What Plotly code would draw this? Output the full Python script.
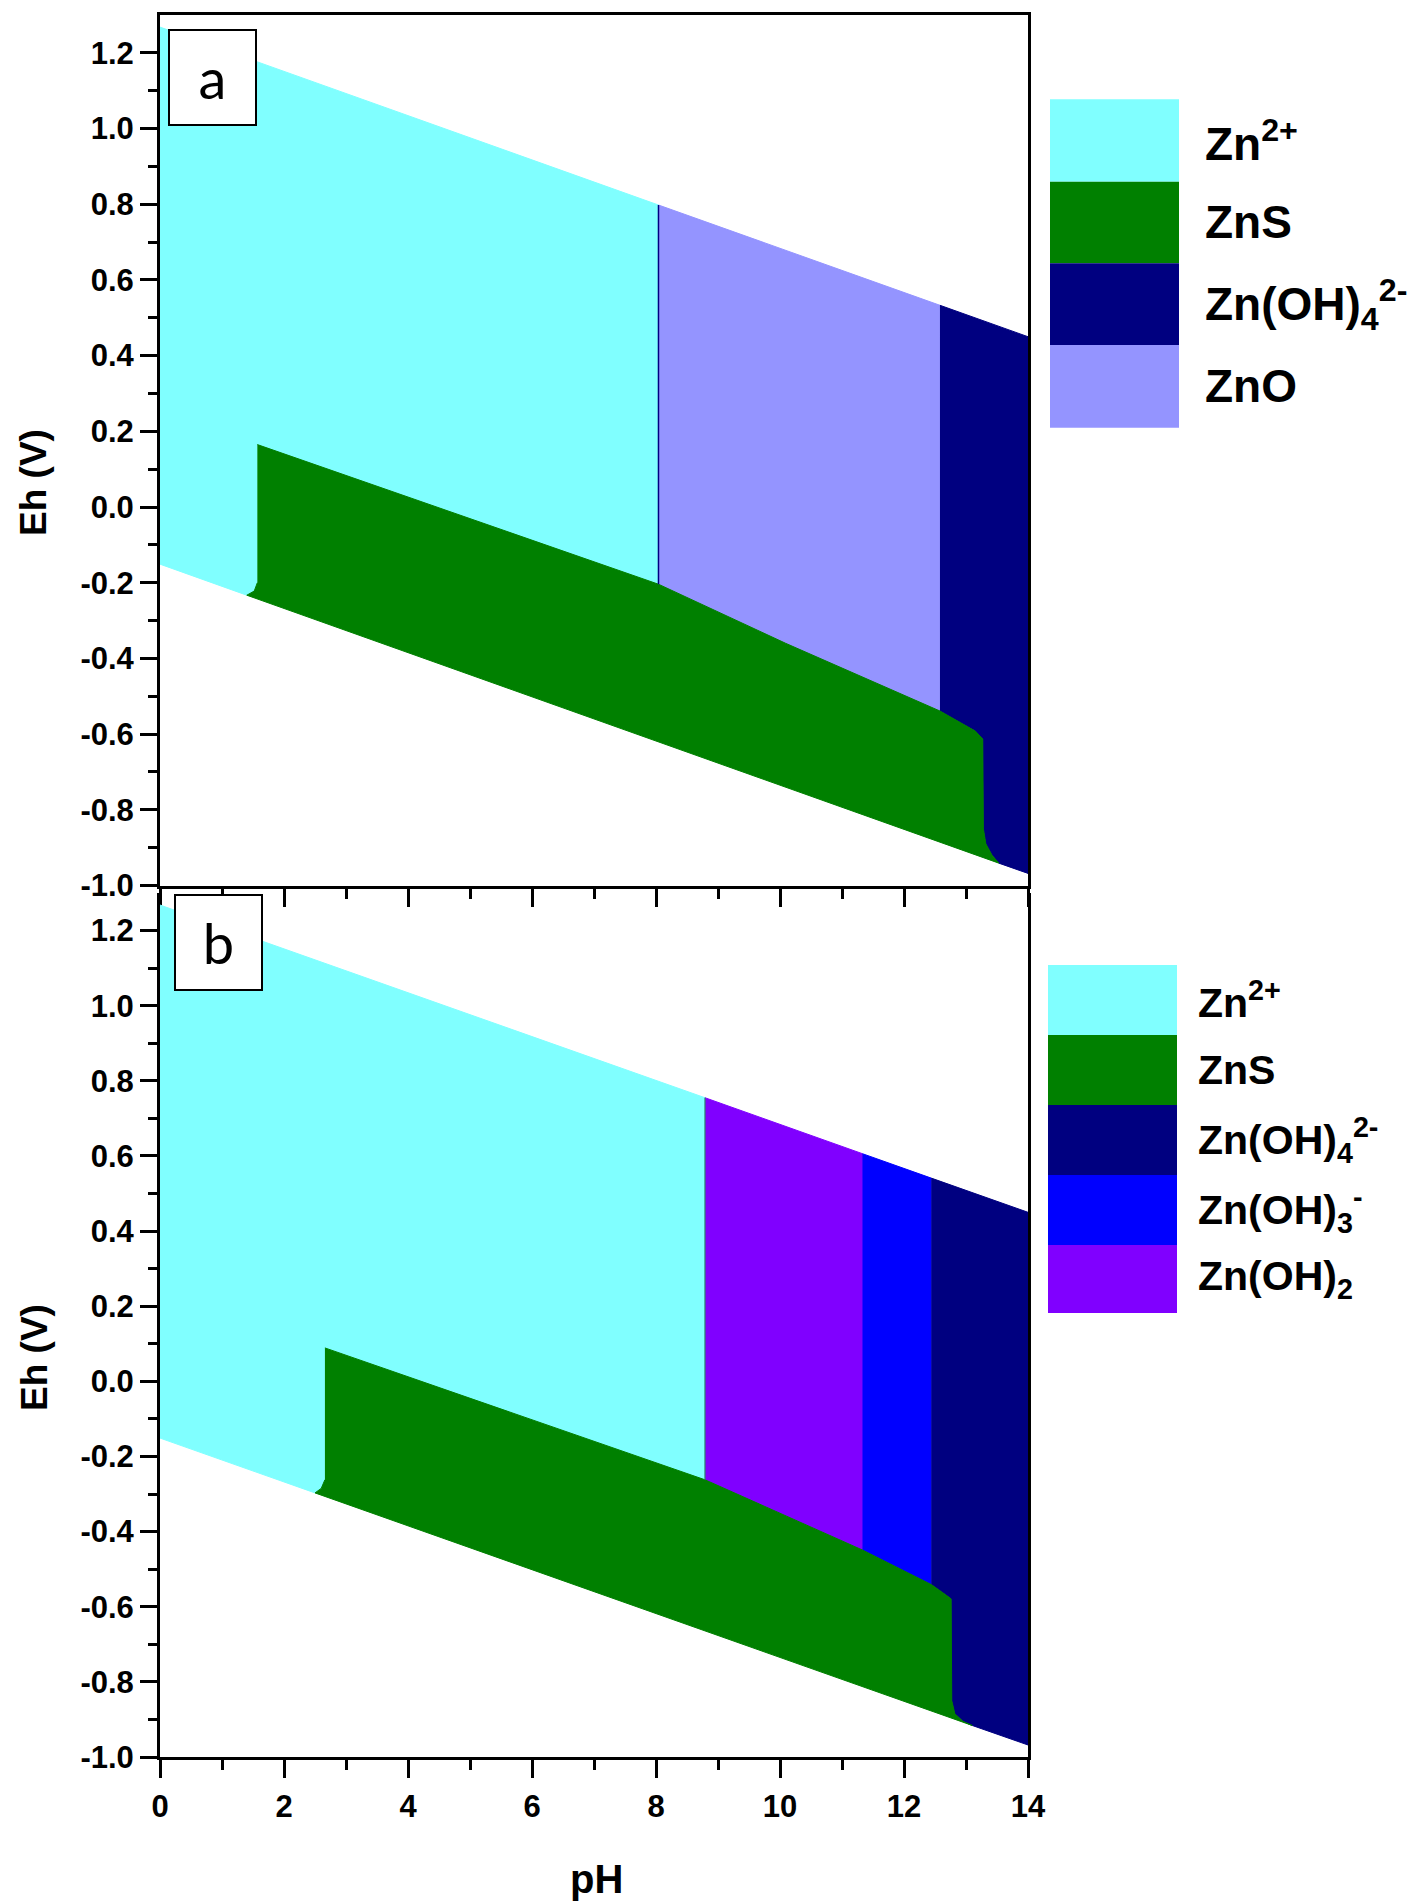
import plotly.graph_objects as go

# ---------------- data ----------------
PH_RANGE = [0, 14]
EH_RANGE = [-1.0, 1.3]
X_TICKS = [0, 2, 4, 6, 8, 10, 12, 14]
X_TICK_LABELS = ["0", "2", "4", "6", "8", "10", "12", "14"]
X_MINOR = [1, 3, 5, 7, 9, 11, 13]
Y_TICKS = [-1.0, -0.8, -0.6, -0.4, -0.2, 0.0, 0.2, 0.4, 0.6, 0.8, 1.0, 1.2]
Y_TICK_LABELS = ["-1.0", "-0.8", "-0.6", "-0.4", "-0.2", "0.0", "0.2", "0.4", "0.6", "0.8", "1.0", "1.2"]
Y_MINOR = [-0.9, -0.7, -0.5, -0.3, -0.1, 0.1, 0.3, 0.5, 0.7, 0.9, 1.1]

# Panel a : region outlines (pH, Eh)
A_ZN2_PH = [0, 8.04, 8.04, 1.57, 1.57, 1.52, 1.40, 0]
A_ZN2_EH = [1.268, 0.798, -0.204, 0.165, -0.200, -0.222, -0.233, -0.151]
A_ZNS_PH = [1.57, 8.04, 10.09, 12.58, 13.15, 13.27, 13.28, 13.32, 13.42, 13.53, 1.40, 1.52, 1.57]
A_ZNS_EH = [0.165, -0.204, -0.360, -0.539, -0.592, -0.613, -0.850, -0.890, -0.920, -0.941, -0.233, -0.222, -0.200]
A_ZNO_PH = [8.04, 12.58, 12.58, 10.09, 8.04]
A_ZNO_EH = [0.798, 0.533, -0.539, -0.360, -0.204]
A_ZNOH4_PH = [12.58, 14, 14, 13.53, 13.42, 13.32, 13.28, 13.27, 13.15, 12.58]
A_ZNOH4_EH = [0.533, 0.450, -0.968, -0.941, -0.920, -0.890, -0.850, -0.613, -0.592, -0.539]

# Panel b : region outlines (pH, Eh)
B_ZN2_PH = [0, 8.79, 8.79, 2.66, 2.66, 2.60, 2.50, 0]
B_ZN2_EH = [1.268, 0.755, -0.262, 0.089, -0.262, -0.285, -0.297, -0.151]
B_ZNS_PH = [2.66, 8.79, 11.33, 12.44, 12.62, 12.76, 12.77, 12.82, 12.95, 13.10, 2.50, 2.60, 2.66]
B_ZNS_EH = [0.089, -0.262, -0.449, -0.541, -0.562, -0.579, -0.850, -0.885, -0.905, -0.916, -0.297, -0.285, -0.262]
B_ZNOH2_PH = [8.79, 11.33, 11.33, 8.79]
B_ZNOH2_EH = [0.755, 0.606, -0.449, -0.262]
B_ZNOH3_PH = [11.33, 12.44, 12.44, 11.33]
B_ZNOH3_EH = [0.606, 0.541, -0.541, -0.449]
B_ZNOH4_PH = [12.44, 14, 14, 13.10, 12.95, 12.82, 12.77, 12.76, 12.62, 12.44]
B_ZNOH4_EH = [0.541, 0.450, -0.968, -0.916, -0.905, -0.885, -0.850, -0.579, -0.562, -0.541]

LEGEND_A = ["Zn<sup>2+</sup>", "ZnS", "Zn(OH)<sub>4</sub><sup>2-</sup>", "ZnO"]
LEGEND_B = ["Zn<sup>2+</sup>", "ZnS", "Zn(OH)<sub>4</sub><sup>2-</sup>", "Zn(OH)<sub>3</sub><sup>-</sup>", "Zn(OH)<sub>2</sub>"]

# ---------------- styles ----------------
CYAN, GREEN, NAVY, LAV, BLUE, PURPLE = "#80FFFF", "#008000", "#000080", "#9494FF", "#0000FF", "#8000FF"
LEG_A_COLORS = [CYAN, GREEN, NAVY, LAV]
LEG_B_COLORS = [CYAN, GREEN, NAVY, BLUE, PURPLE]
FONT = "Liberation Sans, Arial, sans-serif"

W, H = 1416, 1901
L, R, T, B = 160, 1028, 15, 1757


def px(x):
    return (x - L) / (R - L)


def py(y):
    return (B - y) / (B - T)


fig = go.Figure()


def region(xs, ys, color, xa, ya):
    fig.add_trace(go.Scatter(x=xs, y=ys, fill="toself", fillcolor=color, mode="lines",
                             line=dict(color=color, width=1), hoverinfo="skip",
                             xaxis=xa, yaxis=ya, showlegend=False))


region(A_ZN2_PH, A_ZN2_EH, CYAN, "x", "y")
region(A_ZNO_PH, A_ZNO_EH, LAV, "x", "y")
region(A_ZNOH4_PH, A_ZNOH4_EH, NAVY, "x", "y")
region(A_ZNS_PH, A_ZNS_EH, GREEN, "x", "y")
# thin boundary line between Zn2+ and ZnO
fig.add_trace(go.Scatter(x=A_ZNO_PH[:1] + A_ZNO_PH[-1:], y=A_ZNO_EH[:1] + A_ZNO_EH[-1:], mode="lines",
                         line=dict(color=NAVY, width=1.5), hoverinfo="skip", xaxis="x", yaxis="y",
                         showlegend=False))

region(B_ZN2_PH, B_ZN2_EH, CYAN, "x2", "y2")
region(B_ZNOH2_PH, B_ZNOH2_EH, PURPLE, "x2", "y2")
region(B_ZNOH3_PH, B_ZNOH3_EH, BLUE, "x2", "y2")
region(B_ZNOH4_PH, B_ZNOH4_EH, NAVY, "x2", "y2")
region(B_ZNS_PH, B_ZNS_EH, GREEN, "x2", "y2")
fig.add_trace(go.Scatter(x=B_ZNOH2_PH[:1] + B_ZNOH2_PH[-1:], y=B_ZNOH2_EH[:1] + B_ZNOH2_EH[-1:], mode="lines",
                         line=dict(color="#2a7f70", width=1.2), hoverinfo="skip", xaxis="x2", yaxis="y2",
                         showlegend=False))

tickfont = dict(family=FONT, size=31, color="black", weight="bold")
common_x = dict(range=PH_RANGE, tickmode="array", tickvals=X_TICKS, ticktext=X_TICK_LABELS,
                ticks="outside", ticklen=18, tickwidth=2.5, tickcolor="black",
                showline=True, linewidth=3, linecolor="black", showgrid=False, zeroline=False,
                minor=dict(tickvals=X_MINOR, ticks="outside", ticklen=10, tickwidth=2.5, tickcolor="black"),
                tickfont=tickfont, ticklabelstandoff=2)
common_y = dict(range=EH_RANGE, tickmode="array", tickvals=Y_TICKS, ticktext=Y_TICK_LABELS,
                ticks="outside", ticklen=17, tickwidth=2.5, tickcolor="black",
                showline=True, linewidth=3, linecolor="black", showgrid=False, zeroline=False,
                minor=dict(tickvals=Y_MINOR, ticks="outside", ticklen=9, tickwidth=2.5, tickcolor="black"),
                tickfont=tickfont, ticklabelstandoff=0, mirror=True)

fig.update_layout(
    width=W, height=H, margin=dict(l=L, r=W - R, t=T, b=H - B, pad=0),
    paper_bgcolor="white", plot_bgcolor="white", showlegend=False,
    xaxis=dict(common_x, domain=[0, 1], anchor="y", showticklabels=False, mirror=True),
    yaxis=dict(common_y, domain=[py(885.5), 1.0], anchor="x"),
    xaxis2=dict(common_x, domain=[0, 1], anchor="y2", showticklabels=True),
    yaxis2=dict(common_y, domain=[0, py(893)], anchor="x2"),
)

ann = []
title_font = dict(family=FONT, size=37, color="black", weight="bold")
ann.append(dict(text="Eh (V)", x=px(34), y=py(482), xref="paper", yref="paper", showarrow=False,
                textangle=-90, font=title_font, xanchor="center", yanchor="middle"))
ann.append(dict(text="Eh (V)", x=px(34), y=py(1357), xref="paper", yref="paper", showarrow=False,
                textangle=-90, font=title_font, xanchor="center", yanchor="middle"))
ann.append(dict(text="pH", x=px(596), y=py(1879), xref="paper", yref="paper", showarrow=False,
                font=dict(family=FONT, size=40, color="black", weight="bold"),
                xanchor="center", yanchor="middle"))

# panel labels
for lab, x0, y0 in [("a", 168, 29), ("b", 174, 894)]:
    ann.append(dict(text=lab, x=px(x0), y=py(y0), xref="paper", yref="paper", showarrow=False,
                    xanchor="left", yanchor="top", width=85, height=93, bgcolor="white",
                    bordercolor="black", borderwidth=2, borderpad=0, align="center", valign="middle",
                    font=dict(family="Lato, Open Sans, sans-serif", size=56, color="black")))

shapes = []
# legend a
rows_a = [99.3, 181.7, 263.3, 345, 427.7]
for i, (lab, col) in enumerate(zip(LEGEND_A, LEG_A_COLORS)):
    shapes.append(dict(type="rect", xref="paper", yref="paper", x0=px(1050), x1=px(1179),
                       y0=py(rows_a[i + 1]), y1=py(rows_a[i]), fillcolor=col, line=dict(width=0)))
    ann.append(dict(text=lab, x=px(1203), y=py((rows_a[i] + rows_a[i + 1]) / 2), xref="paper", yref="paper",
                    showarrow=False, xanchor="left", yanchor="middle",
                    font=dict(family=FONT, size=46, color="black", weight="bold")))
# legend b
rows_b = [965, 1035, 1105, 1175, 1245, 1313]
for i, (lab, col) in enumerate(zip(LEGEND_B, LEG_B_COLORS)):
    shapes.append(dict(type="rect", xref="paper", yref="paper", x0=px(1048), x1=px(1177),
                       y0=py(rows_b[i + 1]), y1=py(rows_b[i]), fillcolor=col, line=dict(width=0)))
    ann.append(dict(text=lab, x=px(1196), y=py((rows_b[i] + rows_b[i + 1]) / 2), xref="paper", yref="paper",
                    showarrow=False, xanchor="left", yanchor="middle",
                    font=dict(family=FONT, size=41, color="black", weight="bold")))

fig.update_layout(annotations=ann, shapes=shapes)
fig.write_html("out.html")
